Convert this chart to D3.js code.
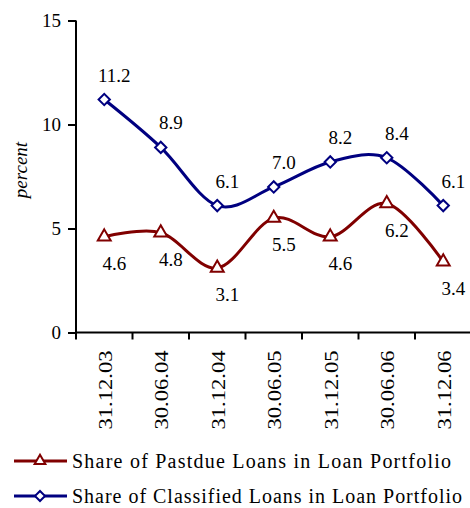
<!DOCTYPE html>
<html>
<head>
<meta charset="utf-8">
<script src="https://cdn.jsdelivr.net/npm/d3@7"></script>
<style>
  body { margin: 0; background: #fff; }
  svg text { font-family: "Liberation Serif", "Times New Roman", Times, "DejaVu Serif", serif !important; fill: #000; }
</style>
</head>
<body>
<svg id="chart" width="470" height="508"></svg>
<script>
// chart data
var dates = ["31.12.03", "30.06.04", "31.12.04", "30.06.05", "31.12.05", "30.06.06", "31.12.06"];
var pastdue = [4.6, 4.8, 3.1, 5.5, 4.6, 6.2, 3.4];
var classified = [11.2, 8.9, 6.1, 7.0, 8.2, 8.4, 6.1];
var yTicks = [0, 5, 10, 15];
var seriesNames = ["Share of Pastdue Loans in Loan Portfolio", "Share of Classified Loans in Loan Portfolio"];

var red = "#800000", blue = "#000080";
var svg = d3.select("#chart");
var margin = { left: 76, top: 20.5, right: 0 };
var plotW = 395.5, plotH = 312;

var x = d3.scaleBand().domain(dates).range([margin.left, margin.left + plotW]);
var y = d3.scaleLinear().domain([0, 15]).range([margin.top + plotH, margin.top]);

// y axis
var yAxis = svg.append("g")
    .attr("transform", "translate(" + margin.left + ",0)")
    .call(d3.axisLeft(y).tickValues(yTicks).tickSize(8).tickPadding(7));
yAxis.select(".domain").attr("stroke-width", 2).attr("d", "M0," + y(0) + "V" + y(15));
yAxis.selectAll(".tick line").attr("stroke-width", 2);
yAxis.selectAll(".tick text").style("font-size", "19px");

// x axis
var xAxis = svg.append("g")
    .attr("transform", "translate(0," + y(0) + ")")
    .call(d3.axisBottom(x).tickSize(0).tickPadding(0));
xAxis.select(".domain").attr("stroke-width", 2).attr("d", "M" + margin.left + ",0H470");
xAxis.selectAll(".tick line").remove();
xAxis.selectAll(".tick text")
    .style("font-size", "19px")
    .attr("transform", "rotate(-90)")
    .attr("text-anchor", "end")
    .attr("x", -18).attr("y", 1).attr("dy", "0.35em")
    .attr("textLength", 79).attr("lengthAdjust", "spacingAndGlyphs");
// boundary tick marks
xAxis.selectAll(".bt")
    .data(d3.range(dates.length + 1))
    .enter().append("line")
    .attr("x1", (i) => margin.left + i * x.bandwidth())
    .attr("x2", (i) => margin.left + i * x.bandwidth())
    .attr("y1", 0).attr("y2", 7)
    .attr("stroke", "#000").attr("stroke-width", 2);

// axis title
svg.append("text")
    .attr("transform", "translate(27,170) rotate(-90)")
    .attr("text-anchor", "middle")
    .style("font-size", "19px").style("font-style", "italic")
    .text("percent");

var cx = (i) => x(dates[i]) + x.bandwidth() / 2;
var line = d3.line()
    .x((d, i) => cx(i))
    .y((d) => y(d))
    .curve(d3.curveCatmullRom.alpha(0));

var tri = d3.symbol().type(d3.symbolTriangle).size(72);
var dia = d3.symbol().type(d3.symbolSquare).size(64);

function addSeries(vals, color, sym, rot, labelDy) {
    var g = svg.append("g");
    g.append("path")
        .attr("d", line(vals))
        .attr("fill", "none")
        .attr("stroke", color)
        .attr("stroke-width", 3);
    g.selectAll("path.m")
        .data(vals)
        .enter().append("path")
        .attr("class", "m")
        .attr("d", sym)
        .attr("transform", (d, i) => "translate(" + cx(i) + "," + y(d) + ") rotate(" + rot + ")")
        .attr("fill", "#fff")
        .attr("stroke", color)
        .attr("stroke-width", 2);
    g.selectAll("text")
        .data(vals)
        .enter().append("text")
        .attr("x", (d, i) => cx(i) + 10)
        .attr("y", (d) => y(d) + labelDy)
        .attr("text-anchor", "middle")
        .style("font-size", "19px")
        .text((d) => d.toFixed(1));
}

addSeries(pastdue, red, tri, 0, 33);
addSeries(classified, blue, dia, 45, -18);

// legend
var legend = svg.append("g");
[[red, tri, 0, 461, 379], [blue, dia, 45, 496, 390]].forEach((el, i) => {
    legend.append("line")
        .attr("x1", 14).attr("x2", 67)
        .attr("y1", el[3]).attr("y2", el[3])
        .attr("stroke", el[0]).attr("stroke-width", 3);
    legend.append("path")
        .attr("d", el[1].size(50))
        .attr("transform", "translate(40," + el[3] + ") rotate(" + el[2] + ")")
        .attr("fill", "#fff")
        .attr("stroke", el[0])
        .attr("stroke-width", 2);
    legend.append("text")
        .attr("x", 72).attr("y", el[3] + 7)
        .attr("textLength", el[4]).attr("lengthAdjust", "spacing")
        .style("font-size", "20px")
        .text(seriesNames[i]);
});
</script>
</body>
</html>
